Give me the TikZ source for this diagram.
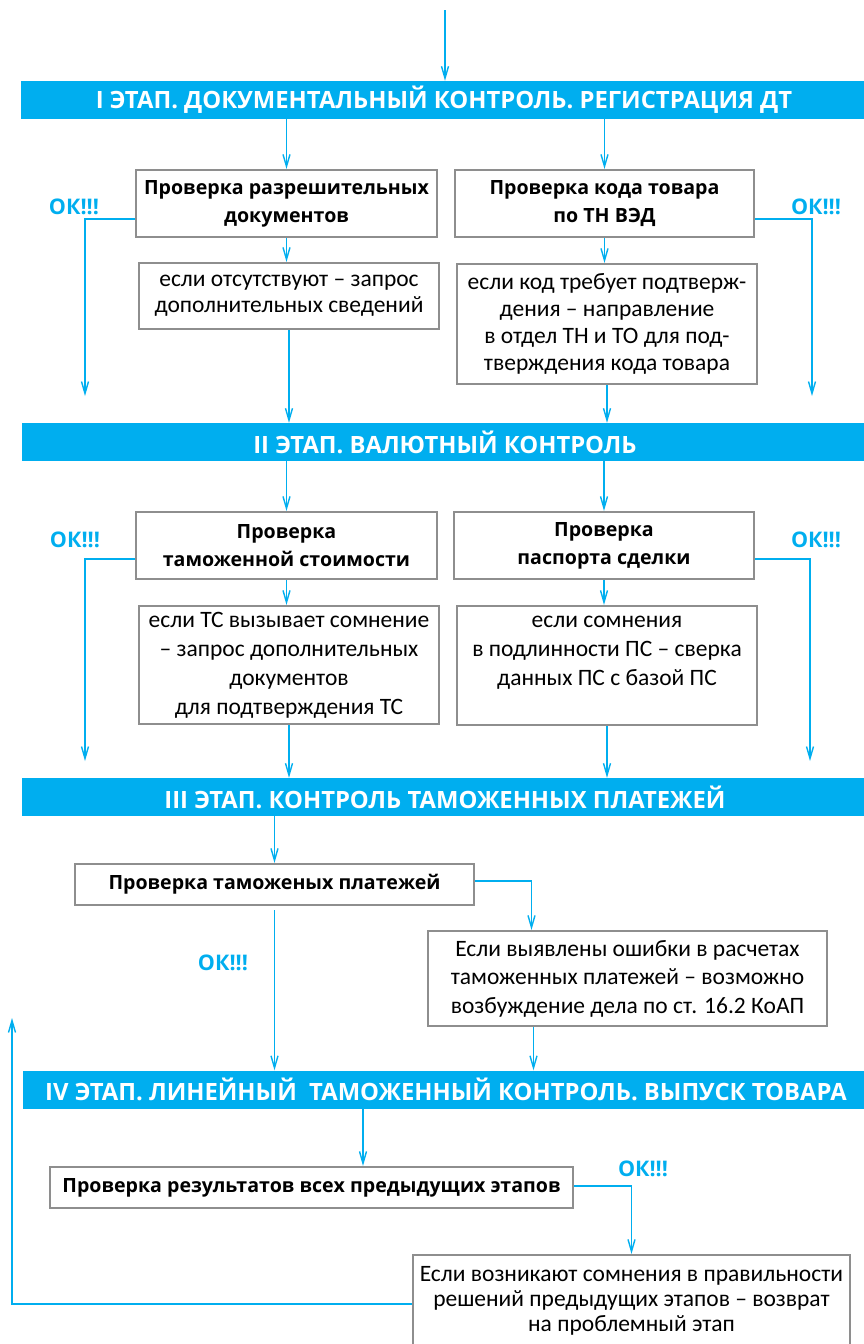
\documentclass[tikz,border=0pt]{standalone}
\usepackage{fontspec}
\setmainfont{Carlito}
\newfontfamily\osans{Open Sans}
\usetikzlibrary{arrows.meta}
\definecolor{cy}{HTML}{00AEEF}
\definecolor{bd}{HTML}{8E8E8E}
\tikzset{
  band/.style={fill=cy, minimum height=38pt, minimum width=846pt, inner sep=0pt, text=white,
    font=\osans\bfseries\fontsize{23.8}{26}\selectfont},
  titlebox/.style={draw=bd, line width=2.2pt, fill=white, inner sep=0pt, align=center,
    font=\osans\bfseries\fontsize{19.6}{28}\selectfont},
  subbox/.style={draw=bd, line width=2.2pt, fill=white, inner sep=0pt, align=center,
    font=\fontsize{23.5}{27}\selectfont},
  oklabel/.style={text=cy, inner sep=0pt, font=\osans\bfseries\fontsize{21.5}{24}\selectfont},
  conn/.style={draw=cy, line width=1.6pt},
  arr/.style={conn, -{Straight Barb[length=12pt,width=7pt,line width=1.4pt]}}
}
\begin{document}
\begin{tikzpicture}[x=1pt,y=-1pt]
\useasboundingbox (0,0) rectangle (863,1344);
% ---------- stage I
\coordinate (start) at (445,10);
\node[band] (b1) at (444,100) {I ЭТАП. ДОКУМЕНТАЛЬНЫЙ КОНТРОЛЬ. РЕГИСТРАЦИЯ ДТ};
\node[titlebox, minimum width=301pt, minimum height=67pt] (t1) at (286.5,203.5) {Проверка разрешительных\\документов};
\node[titlebox, minimum width=299pt, minimum height=67pt] (t2) at (604.5,203.5) {Проверка кода товара\\по ТН ВЭД};
\node[subbox, minimum width=300pt, minimum height=66pt, font=\fontsize{23.5}{26}\selectfont] (s1) at (289,296) {если отсутствуют – запрос\\дополнительных сведений};
\node[subbox, minimum width=300pt, minimum height=120pt] (s2) at (607,324) {если код требует подтверж-\\дения – направление\\в отдел ТН и ТО для под-\\тверждения кода товара};
\node[oklabel] (ok1) at (74,207) {ОК!!!};
\node[oklabel] (ok2) at (816,207) {ОК!!!};
\coordinate (k1) at (85,396);
\coordinate (k2) at (812,396);
% ---------- stage II
\node[band] (b2) at (445,442) {II ЭТАП. ВАЛЮТНЫЙ КОНТРОЛЬ};
\node[titlebox, minimum width=301pt, minimum height=67pt] (t3) at (286.5,545.5) {Проверка\\таможенной стоимости};
\node[titlebox, minimum width=300pt, minimum height=67pt] (t4) at (604,545.5) {Проверка\\паспорта сделки};
\node[subbox, minimum width=300pt, minimum height=118pt, font=\fontsize{23.5}{29}\selectfont] (s3) at (289,665) {если ТС вызывает сомнение\\– запрос дополнительных\\документов\\для подтверждения ТС};
\node[subbox, minimum width=300pt, minimum height=119pt, font=\fontsize{23.5}{29}\selectfont] (s4) at (607,665.5) {если сомнения\\в подлинности ПС – сверка\\данных ПС с базой ПС\\\mbox{}};
\node[oklabel] (ok3) at (75,540) {ОК!!!};
\node[oklabel] (ok4) at (816,540) {ОК!!!};
\coordinate (k3) at (85,761);
\coordinate (k4) at (810,761);
% ---------- stage III
\node[band] (b3) at (445,797) {III ЭТАП. КОНТРОЛЬ ТАМОЖЕННЫХ ПЛАТЕЖЕЙ};
\node[titlebox, minimum width=399pt, minimum height=41pt] (t5) at (274.5,884.5) {Проверка таможеных платежей};
\node[subbox, minimum width=399pt, minimum height=95pt, font=\fontsize{23.5}{28.5}\selectfont] (s5) at (627.5,978.5) {Если выявлены ошибки в расчетах\\таможенных платежей – возможно\\возбуждение дела по ст. 16.2 КоАП};
\node[oklabel] (ok5) at (223,963) {ОК!!!};
% ---------- stage IV
\node[band] (b4) at (446,1089.5) {IV ЭТАП. ЛИНЕЙНЫЙ\ \ ТАМОЖЕННЫЙ КОНТРОЛЬ. ВЫПУСК ТОВАРА};
\node[titlebox, minimum width=523pt, minimum height=41pt] (t6) at (311.5,1187.5) {Проверка результатов всех предыдущих этапов};
\node[subbox, minimum width=437pt, minimum height=92pt, font=\fontsize{23.5}{25}\selectfont] (s6) at (631.5,1301) {Если возникают сомнения в правильности\\решений предыдущих этапов – возврат\\на проблемный этап};
\node[oklabel] (ok6) at (643,1169) {ОК!!!};
\coordinate (back) at (12,1018);
% ---------- connectors
\draw[arr] (start) -- (start |- b1.north);
\draw[arr] (t1 |- b1.south) -- (t1.north);
\draw[arr] (t2 |- b1.south) -- (t2.north);
\draw[arr] (t1.south) -- (t1.south |- s1.north);
\draw[arr] (t2.south) -- (t2.south |- s2.north);
\draw[arr] (s1.south) -- (s1.south |- b2.north);
\draw[arr] (s2.south) -- (s2.south |- b2.north);
\draw[arr] ([yshift=-15.5pt]t1.west) -| (k1);
\draw[arr] ([yshift=-15.5pt]t2.east) -| (k2);
\draw[arr] (t3 |- b2.south) -- (t3.north);
\draw[arr] (t4 |- b2.south) -- (t4.north);
\draw[arr] (t3.south) -- (t3.south |- s3.north);
\draw[arr] (t4.south) -- (t4.south |- s4.north);
\draw[arr] (s3.south) -- (s3.south |- b3.north);
\draw[arr] (s4.south) -- (s4.south |- b3.north);
\draw[arr] ([yshift=-13.5pt]t3.west) -| (k3);
\draw[arr] ([yshift=-13.5pt]t4.east) -| (k4);
\draw[arr] (t5 |- b3.south) -- (t5.north);
\draw[arr] ([yshift=3.5pt]t5.east) -| ([xshift=-96pt]s5.north);
\draw[arr] ([yshift=-4pt]t5.south) -- (t5.south |- b4.north);
\draw[arr] ([xshift=-94pt]s5.south) -- ([xshift=-94pt]s5.south |- b4.north);
\draw[arr] ([xshift=51.5pt]t6.north |- b4.south) -- ([xshift=51.5pt]t6.north);
\draw[arr] ([yshift=1.5pt]t6.east) -| (s6.north);
\draw[arr] ([yshift=-3pt]s6.west) -| (back);
\end{tikzpicture}
\end{document}
